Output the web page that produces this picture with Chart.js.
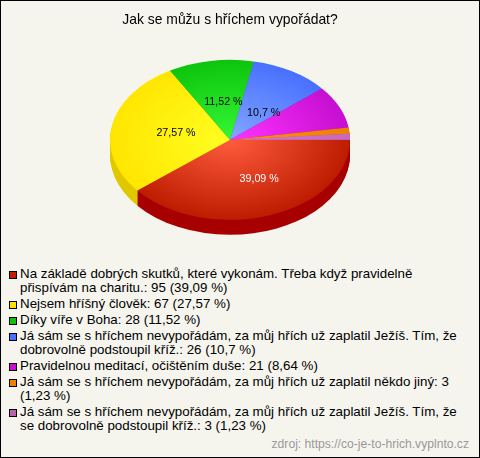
<!DOCTYPE html>
<html>
<head>
<meta charset="utf-8">
<script src="https://cdn.jsdelivr.net/npm/chart.js@4"></script>
<style>
  html, body { margin: 0; padding: 0; background: #f5f5ee; }
  #box { position: relative; width: 480px; height: 458px; box-sizing: border-box; border: 1px solid #000; background: #f5f5ee; overflow: hidden; font-family: "Liberation Sans", Arial, sans-serif; }
  #pie { position: absolute; left: -1px; top: -1px; }
  #legend { position: absolute; left: 8px; top: 266px; width: 465px; font-size: 13.33px; line-height: 14px; color: #000; }
  .row { position: relative; padding-left: 11px; margin-bottom: 2px; white-space: pre-line; }
  .swatch { position: absolute; left: 0; top: 4px; width: 6px; height: 6px; border: 1px solid #000; }
  #source { position: absolute; right: 10px; top: 436px; font-size: 12.13px; color: #999; }
</style>
</head>
<body>
<div id="box">
  <canvas id="pie" width="480" height="262"></canvas>
  <div id="legend"></div>
  <div id="source">zdroj: https://co-je-to-hrich.vyplnto.cz</div>
</div>
<script>
const title = "Jak se můžu s hříchem vypořádat?";
const categories = [
  "Na základě dobrých skutků, které vykonám. Třeba když pravidelně\npřispívám na charitu.",
  "Nejsem hříšný člověk",
  "Díky víře v Boha",
  "Já sám se s hříchem nevypořádám, za můj hřích už zaplatil Ježíš. Tím, že\ndobrovolně podstoupil kříž.",
  "Pravidelnou meditací, očištěním duše",
  "Já sám se s hříchem nevypořádám, za můj hřích už zaplatil někdo jiný",
  "Já sám se s hříchem nevypořádám, za můj hřích už zaplatil Ježíš. Tím, že\nse dobrovolně podstoupil kříž.",
];
const values = [95, 67, 28, 26, 21, 3, 3];
const percents = ["39,09 %", "27,57 %", "11,52 %", "10,7 %", "8,64 %", "1,23 %", "1,23 %"];

const innerColors = ["#ff5c3e", "#ffff22", "#36f836", "#84a6ff", "#ff32ff", "#ff920c", "#d678cc"];
const outerColors = ["#be1c00", "#ffe600", "#0cc40c", "#4870ff", "#c60fd0", "#f08000", "#c868c0"];
const sideColors = ["#a80000", "#e0c800", "#0a9a0a", "#3050c0", "#9a0ca0", "#c06000", "#a050a0"];
const swatchColors = ["#c02000", "#ffe000", "#10c010", "#4a70ff", "#c810d0", "#f08000", "#c060b0"];

const tilt = 2 / 3;
const depth = 15;
const minLabelShare = 10;
const labelNudge = [[9, 2], [5, 0], [3, 2], [3, 8]];

const pie3d = {
  id: "pie3d",
  beforeDatasetsDraw(chart) {
    const ctx = chart.ctx;
    const arcs = chart.getDatasetMeta(0).data;
    const cx = arcs[0].x, cy = arcs[0].y;
    ctx.save();
    // squash the circle into an ellipse
    ctx.translate(cx, cy);
    ctx.scale(1, tilt);
    ctx.translate(-cx, -cy);
    for (let d = depth; d > 0; d--) {
      arcs.forEach((arc, i) => {
        ctx.beginPath();
        ctx.moveTo(cx, cy + d / tilt);
        ctx.arc(cx, cy + d / tilt, arc.outerRadius, arc.startAngle, arc.endAngle);
        ctx.closePath();
        ctx.fillStyle = sideColors[i];
        ctx.fill();
      });
    }
  },
  afterDatasetsDraw(chart) {
    const ctx = chart.ctx;
    ctx.restore();
    const arcs = chart.getDatasetMeta(0).data;
    ctx.save();
    ctx.font = '10.67px "Liberation Sans", Arial, sans-serif';
    ctx.textAlign = "center";
    ctx.textBaseline = "middle";
    arcs.forEach((arc, i) => {
      if (parseFloat(percents[i]) < minLabelShare) return;
      const pos = arc.tooltipPosition();
      const nudge = labelNudge[i] || [0, 0];
      ctx.fillStyle = i === 0 ? "#fff" : "#000";
      ctx.fillText(percents[i], pos.x + nudge[0], arc.y + (pos.y - arc.y) * tilt + nudge[1]);
    });
    ctx.restore();
  },
};

function sliceFill(context) {
  const chart = context.chart;
  const area = chart.chartArea;
  if (!area) return outerColors[context.dataIndex];
  const cx = (area.left + area.right) / 2;
  const cy = (area.top + area.bottom) / 2;
  const g = chart.ctx.createRadialGradient(cx, cy, 0, cx, cy, 120);
  g.addColorStop(0, innerColors[context.dataIndex]);
  g.addColorStop(1, outerColors[context.dataIndex]);
  return g;
}

new Chart(document.getElementById("pie"), {
  type: "pie",
  data: {
    labels: categories,
    datasets: [{ data: values, backgroundColor: sliceFill, borderWidth: 0, clip: false }],
  },
  options: {
    responsive: false,
    animation: false,
    rotation: 90,
    radius: 120,
    layout: { padding: { left: 110, right: 130, top: 0, bottom: 13 } },
    plugins: {
      legend: { display: false },
      tooltip: { enabled: false },
      title: {
        display: true,
        text: title,
        color: "#000",
        font: { family: '"Liberation Sans", Arial, sans-serif', size: 13.9, weight: "normal" },
        padding: { top: 12, bottom: 2 },
      },
    },
  },
  plugins: [pie3d],
});

// legend under the pie, long labels wrap onto two lines
const legend = document.getElementById("legend");
categories.forEach((name, i) => {
  const row = document.createElement("div");
  row.className = "row";
  const swatch = document.createElement("span");
  swatch.className = "swatch";
  swatch.style.background = swatchColors[i];
  row.appendChild(swatch);
  const wrapHere = i === 5 ? "\n" : " ";
  row.appendChild(document.createTextNode(`${name}: ${values[i]}${wrapHere}(${percents[i]})`));
  legend.appendChild(row);
});
</script>
</body>
</html>
